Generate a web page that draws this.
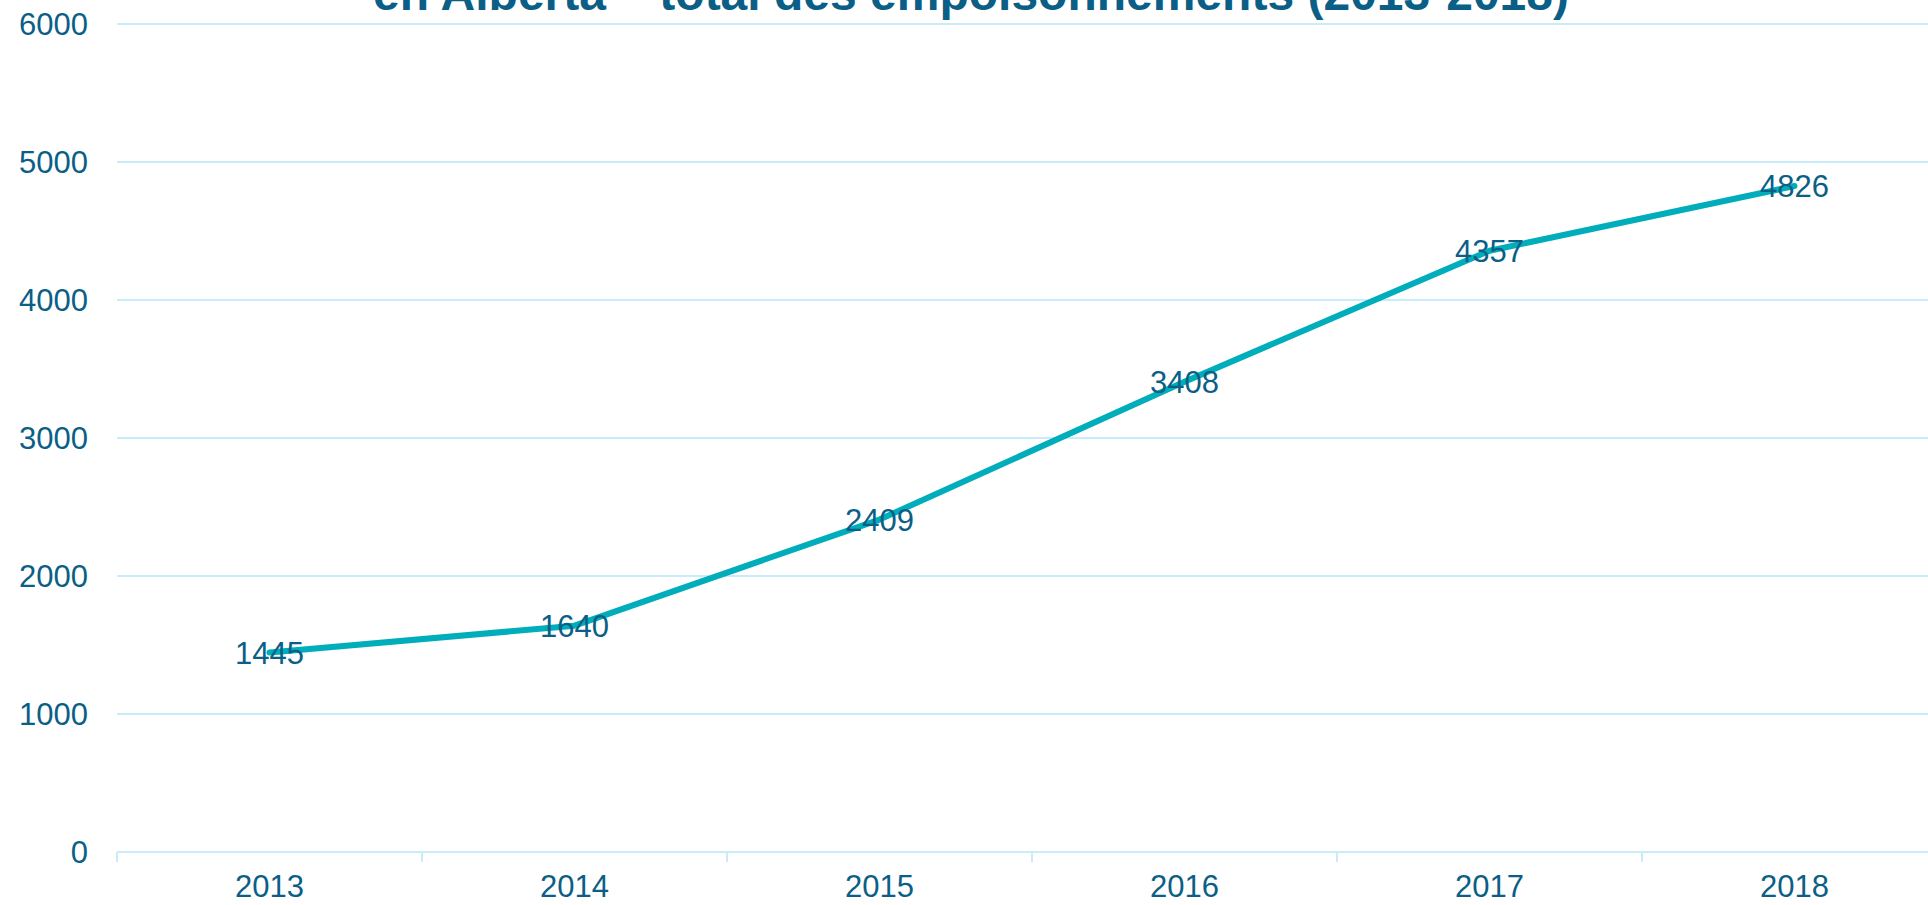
<!DOCTYPE html>
<html>
<head>
<meta charset="utf-8">
<script src="https://cdn.jsdelivr.net/npm/d3@7"></script>
<style>
  body { margin: 0; background: #fff; }
  svg text { font-family: "Liberation Sans", Arial, sans-serif; }
</style>
</head>
<body>
<div id="chart"></div>
<script>
const YEARS = ["2013", "2014", "2015", "2016", "2017", "2018"];
const TOTALS = [1445, 1640, 2409, 3408, 4357, 4826];
const Y_TICKS = [0, 1000, 2000, 3000, 4000, 5000, 6000];
const TITLE = "en Alberta – total des empoisonnements (2013-2018)";

class LineChart {
  constructor(_config) {
    this.config = {
      parentElement: _config.parentElement,
      containerWidth: 1928,
      containerHeight: 905,
      bandWidth: 305,
      fontSize: "31px",
      margin: { top: 24, right: 0, bottom: 53, left: 117 },
    };
    this.initVis();
  }

  initVis() {
    let vis = this;
    const m = vis.config.margin;
    vis.config.height = vis.config.containerHeight - m.top - m.bottom;

    vis.svg = d3
      .select(vis.config.parentElement)
      .append("svg")
      .attr("width", vis.config.containerWidth)
      .attr("height", vis.config.containerHeight);

    // x runs past the right edge, like the original slide crop
    vis.xScale = d3
      .scaleBand()
      .domain(YEARS)
      .range([m.left, m.left + YEARS.length * vis.config.bandWidth])
      .padding(0);

    vis.yScale = d3
      .scaleLinear()
      .domain([0, 6000])
      .range([m.top + vis.config.height, m.top]);

    vis.renderVis();
  }

  renderVis() {
    let vis = this;
    const textColor = "#0b5f86";
    const gridColor = "#c9ecfb";
    const fs = vis.config.fontSize;

    // gridlines
    vis.svg
      .append("g")
      .selectAll("line")
      .data(Y_TICKS)
      .join("line")
      .attr("x1", vis.config.margin.left)
      .attr("x2", vis.config.containerWidth)
      .attr("y1", (d) => vis.yScale(d))
      .attr("y2", (d) => vis.yScale(d))
      .attr("stroke", gridColor)
      .attr("stroke-width", 2);

    // y labels
    vis.svg
      .append("g")
      .selectAll("text")
      .data(Y_TICKS)
      .join("text")
      .attr("x", 88)
      .attr("y", (d) => vis.yScale(d))
      .attr("dy", "0.36em")
      .attr("text-anchor", "end")
      .attr("fill", textColor)
      .style("font-size", fs)
      .text((d) => d);

    // x axis ticks at band edges
    const edges = YEARS.map((d) => vis.xScale(d)).concat([
      vis.xScale.range()[1],
    ]);
    const y0 = vis.yScale(0);
    vis.svg
      .append("g")
      .selectAll("line")
      .data(edges)
      .join("line")
      .attr("x1", (d) => d)
      .attr("x2", (d) => d)
      .attr("y1", y0)
      .attr("y2", y0 + 10)
      .attr("stroke", gridColor)
      .attr("stroke-width", 2);

    vis.svg
      .append("g")
      .selectAll("text")
      .data(YEARS)
      .join("text")
      .attr("x", (d) => vis.xScale(d) + vis.xScale.bandwidth() / 2)
      .attr("y", 897)
      .attr("text-anchor", "middle")
      .attr("fill", textColor)
      .style("font-size", fs)
      .text((d) => d);

    const points = YEARS.map((d, i) => ({ year: d, value: TOTALS[i] }));
    const line = d3
      .line()
      .x((d) => vis.xScale(d.year) + vis.xScale.bandwidth() / 2)
      .y((d) => vis.yScale(d.value));

    vis.svg
      .append("path")
      .datum(points)
      .attr("d", line)
      .attr("fill", "none")
      .attr("stroke", "#00adba")
      .attr("stroke-width", 6)
      .attr("stroke-linecap", "round")
      .attr("stroke-linejoin", "round");

    // data labels sit right on the points
    vis.svg
      .append("g")
      .selectAll("text")
      .data(points)
      .join("text")
      .attr("x", (d) => vis.xScale(d.year) + vis.xScale.bandwidth() / 2)
      .attr("y", (d) => vis.yScale(d.value))
      .attr("dy", "0.36em")
      .attr("text-anchor", "middle")
      .attr("fill", textColor)
      .style("font-size", fs)
      .text((d) => d.value);

    // title, only its lower line is on screen
    vis.svg
      .append("text")
      .attr("x", 971)
      .attr("y", 10)
      .attr("text-anchor", "middle")
      .attr("fill", textColor)
      .style("font-size", "48px")
      .style("font-weight", "bold")
      .text(TITLE);
  }
}

new LineChart({ parentElement: "#chart" });
</script>
</body>
</html>
